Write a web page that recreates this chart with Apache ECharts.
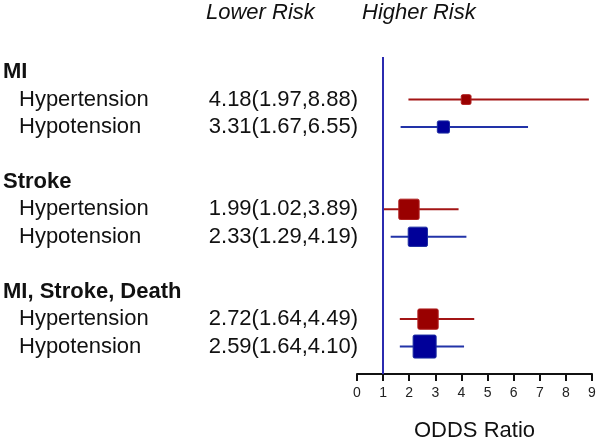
<!DOCTYPE html>
<html>
<head>
<meta charset="utf-8">
<script src="https://cdn.jsdelivr.net/npm/echarts@6/dist/echarts.min.js"></script>
<style>html,body{margin:0;padding:0;background:#fff}#c{width:600px;height:439px}</style>
</head>
<body>
<div id="c"></div>
<script>
var groups = ['MI', 'Stroke', 'MI, Stroke, Death'];
var subgroups = ['Hypertension', 'Hypotension'];
var oddsRatio = [[4.18, 3.31], [1.99, 2.33], [2.72, 2.59]];
var ciLower = [[1.97, 1.67], [1.02, 1.29], [1.64, 1.64]];
var ciUpper = [[8.88, 6.55], [3.89, 4.19], [4.49, 4.10]];
var weights = [[0.18, 0.28], [0.78, 0.7], [0.78, 1.0]];
var xTicks = [0, 1, 2, 3, 4, 5, 6, 7, 8, 9];
var refValue = 1;

var FONT = '"Liberation Sans", Arial, sans-serif';
var headerRows = [], itemRows = [], rowText = {}, estText = {};
var row = 0;
groups.forEach(function (g, gi) {
  headerRows.push(row); rowText[row] = g; row++;
  subgroups.forEach(function (s, si) {
    itemRows.push(row);
    rowText[row] = s;
    estText[row] = oddsRatio[gi][si].toFixed(2) + '(' + ciLower[gi][si].toFixed(2) + ',' + ciUpper[gi][si].toFixed(2) + ')';
    row++;
  });
  row++;
});

var colors = [
  { line: '#a31515', fill: '#990000', border: '#b02020' },
  { line: '#2233a8', fill: '#000099', border: '#1a2aa0' }
];

function seriesData(si) {
  var d = [], r = 0;
  groups.forEach(function (g, gi) {
    r++;
    d.push([oddsRatio[gi][si], r + si, ciLower[gi][si], ciUpper[gi][si], weights[gi][si]]);
    r += subgroups.length + 1;
  });
  return d;
}

function makeSeries(si) {
  var c = colors[si];
  return {
    type: 'custom',
    name: subgroups[si],
    xAxisIndex: 0, yAxisIndex: 0,
    clip: false,
    encode: { x: [0, 2, 3], y: 1 },
    data: seriesData(si),
    renderItem: function (params, api) {
      var y = api.value(1);
      var p0 = api.coord([api.value(2), y]);
      var p1 = api.coord([api.value(3), y]);
      var pc = api.coord([api.value(0), y]);
      var s = 23 * Math.sqrt(api.value(4));
      return {
        type: 'group',
        children: [
          { type: 'line', shape: { x1: p0[0], y1: p0[1], x2: p1[0], y2: p1[1] },
            style: { stroke: c.line, lineWidth: 2 } },
          { type: 'rect', shape: { x: pc[0] - s / 2, y: pc[1] - s / 2, width: s, height: s, r: 1.5 },
            style: { fill: c.fill, stroke: c.border, lineWidth: 1 } }
        ]
      };
    }
  };
}

var yBase = { type: 'value', min: -0.55, max: 11, inverse: true, position: 'left',
  axisLine: { show: false }, axisTick: { show: false }, splitLine: { show: false } };

var option = {
  animation: false,
  backgroundColor: '#fff',
  grid: { left: 357, right: 8, top: 57, bottom: 65, containLabel: false, outerBoundsMode: 'none' },
  xAxis: {
    type: 'value', min: 0, max: 9, interval: 1,
    axisLine: { show: true, onZero: false, lineStyle: { color: '#111', width: 2 } },
    axisTick: { show: true, inside: false, length: 7, lineStyle: { color: '#111', width: 2 } },
    splitLine: { show: false },
    axisLabel: { fontSize: 14, color: '#222', margin: 12, fontFamily: FONT,
      customValues: xTicks },
    name: 'ODDS Ratio', nameLocation: 'middle', nameGap: 46,
    nameTextStyle: { fontSize: 22, color: '#111', fontFamily: FONT }
  },
  yAxis: [
    Object.assign({}, yBase, {
      axisLabel: { customValues: itemRows, align: 'left', margin: 338, fontSize: 22, color: '#111', fontFamily: FONT,
        formatter: function (v) { return rowText[v] || ''; } }
    }),
    Object.assign({}, yBase, {
      axisLabel: { customValues: headerRows, align: 'left', margin: 354, fontSize: 22, fontWeight: 'bold', color: '#111', fontFamily: FONT,
        formatter: function (v) { return rowText[v] || ''; } }
    }),
    Object.assign({}, yBase, {
      axisLabel: { customValues: itemRows, align: 'right', margin: -1, fontSize: 22, color: '#111', fontFamily: FONT,
        formatter: function (v) { return estText[v] || ''; } }
    })
  ],
  graphic: [
    { type: 'text', left: 206, top: 2, style: { text: 'Lower Risk', font: 'italic 22px ' + FONT, fill: '#111' } },
    { type: 'text', left: 362, top: 2, style: { text: 'Higher Risk', font: 'italic 22px ' + FONT, fill: '#111' } }
  ],
  series: [
    makeSeries(0),
    makeSeries(1),
    {
      type: 'line', data: [], xAxisIndex: 0, yAxisIndex: 0,
      markLine: {
        silent: true, symbol: 'none', label: { show: false },
        lineStyle: { color: '#2b2bb0', width: 2, type: 'solid' },
        data: [{ xAxis: refValue }]
      }
    }
  ]
};

var chart = echarts.init(document.getElementById('c'), null, { renderer: 'canvas' });
chart.setOption(option);
</script>
</body>
</html>
